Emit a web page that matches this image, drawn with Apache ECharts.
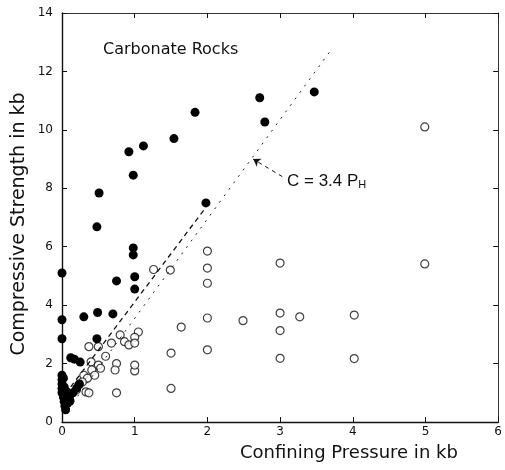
<!DOCTYPE html>
<html><head><meta charset="utf-8">
<script src="https://cdn.jsdelivr.net/npm/echarts@6/dist/echarts.min.js"></script>
<style>html,body{margin:0;padding:0;background:#fff}#c{width:505px;height:470px}</style>
</head><body><div id="c"></div>
<script>
var xTicks = [0,1,2,3,4,5,6];
var yTicks = [0,2,4,6,8,10,12,14];
var filledX = [3.47,2.72,2.79,1.83,1.54,1.12,0.92,0.98,0.51,0.48,0.98,0.98,0,0.75,1.0,1.0,1.98,0,0,0.3,0.49,0.7,0.48,0.17,0.25,0.12,
  0,0,0,0,0,0.02,0.03,0.04,0.05,0.08,0.1,0.15,0.2,0.24,0.06,0.11,0.02,0.03];
var filledY = [11.3,11.1,10.27,10.6,9.7,9.45,9.25,8.45,7.84,6.68,5.96,5.72,5.1,4.83,4.97,4.55,7.5,3.5,2.85,3.6,3.75,3.7,2.85,2.15,2.05,2.2,
  1.6,1.45,1.3,1.15,1.0,0.85,0.7,0.55,0.42,0.65,0.85,1.0,1.15,1.3,1.05,0.72,1.5,1.2];
var openX = [1.26,1.49,2.0,2.0,2.0,2.0,2.0,1.64,2.49,3.0,3.0,3.27,3.0,3.0,4.02,4.02,4.99,4.99,1.5,1.5,
  1.05,1.0,0.8,0.86,0.92,1.0,0.68,0.37,0.5,0.4,0.5,0.41,0.53,0.75,0.73,1.0,1.0,0.3,0.35,0.28,0.23,0.2,0.33,0.37,0.75,0.45,0.6];
var openY = [5.22,5.2,5.85,5.27,4.75,3.56,2.47,3.25,3.47,5.44,3.73,3.6,3.13,2.18,3.66,2.17,10.1,5.41,2.36,1.15,
  3.08,2.9,2.98,2.75,2.64,2.7,2.7,2.58,2.58,2.06,1.95,1.78,1.84,2.0,1.78,1.75,1.95,1.6,1.5,1.37,1.27,1.1,1.03,1.0,1.0,1.6,2.25];
var lineAX = [0.12,1.98];
var lineAY = [1.2,7.35];
var lineBX = [0.15,3.72];
var lineBY = [0.66,12.8];
var leaderX = [3.03,2.63];
var leaderY = [8.4,9.0];

function zip(a,b){return a.map(function(v,i){return [v,b[i]];});}
var chart = echarts.init(document.getElementById('c'), null, {renderer:'canvas'});
var fnt = 'DejaVu Sans, Liberation Sans, sans-serif';
var fnt2 = 'Liberation Sans, Arial, sans-serif';
function ax(extra){
  var base = {
    type:'value', min:0, splitLine:{show:false},
    axisLine:{show:true, onZero:false, lineStyle:{color:'#111', width:1.4}},
    axisTick:{show:true, inside:true, length:5, lineStyle:{color:'#111'}}
  };
  return Object.assign(base, extra);
}
chart.setOption({
  animation:false,
  backgroundColor:'#fff',
  grid:{left:62, right:5, top:13, bottom:48},
  xAxis:[
    ax({position:'bottom', max:6, interval:1,
      axisLabel:{color:'#111', fontSize:12, fontFamily:fnt, margin:4}}),
    ax({position:'top', max:6, interval:1, axisLabel:{show:false},
      axisLine:{show:true, onZero:false, lineStyle:{color:'#333', width:1}}})
  ],
  yAxis:[
    ax({position:'left', max:14, interval:2,
      axisLabel:{color:'#111', fontSize:12, fontFamily:fnt, margin:9}}),
    ax({position:'right', max:14, interval:2, axisLabel:{show:false},
      axisLine:{show:true, onZero:false, lineStyle:{color:'#333', width:1}}})
  ],
  series:[
    {type:'line', data:zip(lineAX,lineAY), symbol:'none', lineStyle:{color:'#111', width:1.3, type:[5,4]}},
    {type:'line', data:zip(lineBX,lineBY), symbol:'none', lineStyle:{color:'#222', width:1, type:[2,6]}},
    {type:'line', data:[], symbol:'none',
      markLine:{silent:true, symbol:['none','arrow'], symbolSize:7, label:{show:false},
        lineStyle:{color:'#111', width:1, type:[4,4]},
        data:[[{coord:[leaderX[0],leaderY[0]]},{coord:[leaderX[1],leaderY[1]]}]]}},
    {type:'scatter', data:zip(openX,openY), symbol:'circle', symbolSize:8,
      itemStyle:{color:'#fff', borderColor:'#111', borderWidth:1.2}},
    {type:'scatter', data:zip(filledX,filledY), symbol:'circle', symbolSize:9,
      itemStyle:{color:'#000', opacity:1}}
  ],
  graphic:[
    {type:'text', left:103, top:42, style:{text:'Carbonate Rocks', fontSize:16, fontFamily:fnt, fill:'#111'}},
    {type:'text', left:287, top:173, style:{text:'C = 3.4 P{s|H}', fontSize:17, fontFamily:fnt2, fill:'#111',
      rich:{s:{fontSize:11, fontFamily:fnt2, fill:'#111', padding:[7,0,0,0]}}}},
    {type:'text', left:240, top:444, style:{text:'Confining Pressure in kb', fontSize:18, fontFamily:fnt, fill:'#111'}},
    {type:'text', x:19, y:224, rotation:Math.PI/2, style:{text:'Compressive Strength in kb', fontSize:19, fontFamily:fnt, fill:'#111', align:'center', verticalAlign:'middle'}}
  ]
});
</script></body></html>
